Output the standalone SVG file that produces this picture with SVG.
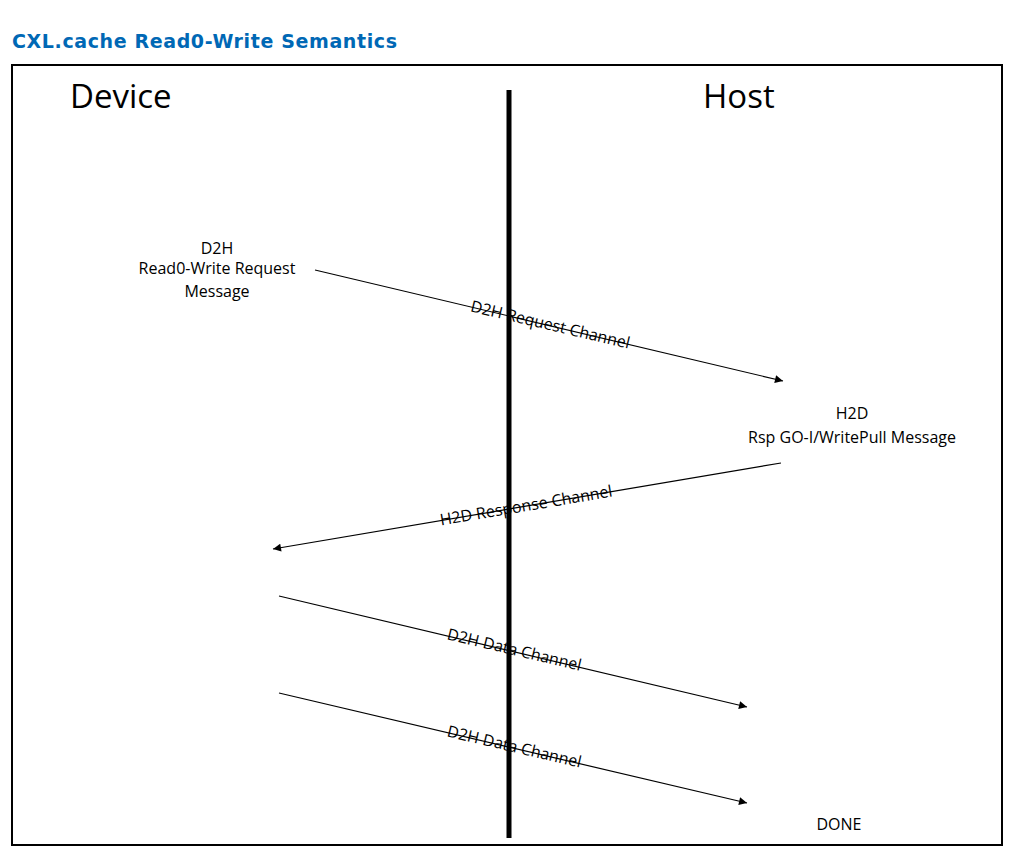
<svg xmlns="http://www.w3.org/2000/svg" width="1020" height="865" viewBox="0 0 1020 865">
<style>
.t{font-family:"Open Sans","Liberation Sans",sans-serif;font-size:16px;fill:#000;text-anchor:middle}
.big{font-family:"Open Sans","Liberation Sans",sans-serif;font-size:33px;fill:#000}
.ln{stroke:#000;stroke-width:1.2;fill:none;marker-end:url(#ah)}
</style>
<defs><marker id="ah" viewBox="0 0 10 10" refX="10" refY="5" markerWidth="10" markerHeight="8" markerUnits="userSpaceOnUse" orient="auto"><path d="M0,0L10,5L0,10z" fill="#000"/></marker></defs>
<rect width="1020" height="865" fill="#fff"/>
<text x="12" y="48" font-family="Verdana,'DejaVu Sans',sans-serif" font-weight="bold" font-size="19" fill="#0068B5" textLength="385">CXL.cache Read0-Write Semantics</text>
<rect x="12" y="65" width="990" height="780" fill="none" stroke="#000" stroke-width="2"/>
<g id="device"><text class="big" x="70" y="108">Device</text></g>
<g id="host"><text class="big" x="703" y="108">Host</text></g>
<g id="lifeline"><line x1="509" y1="90" x2="509" y2="838" stroke="#000" stroke-width="5"/></g>
<g id="req"><text class="t" x="217" y="254">D2H</text><text class="t" x="217" y="274">Read0-Write Request</text><text class="t" x="217" y="297">Message</text></g>
<g id="rsp"><text class="t" x="852" y="419">H2D</text><text class="t" x="852" y="443">Rsp GO-I/WritePull Message</text></g>
<g id="done"><text class="t" x="839" y="830">DONE</text></g>
<g id="connectors">
<line class="ln" x1="315" y1="270" x2="783" y2="381"/>
<line class="ln" x1="781" y1="463" x2="273" y2="549"/>
<line class="ln" x1="279" y1="596" x2="747" y2="707"/>
<line class="ln" x1="279" y1="693" x2="747" y2="803"/>
<text class="t" transform="translate(549,330) rotate(13.3)">D2H Request Channel</text>
<text class="t" transform="translate(527,511) rotate(-9.6)">H2D Response Channel</text>
<text class="t" transform="translate(513,655) rotate(13.3)">D2H Data Channel</text>
<text class="t" transform="translate(513,752) rotate(13.2)">D2H Data Channel</text>
</g>
</svg>
